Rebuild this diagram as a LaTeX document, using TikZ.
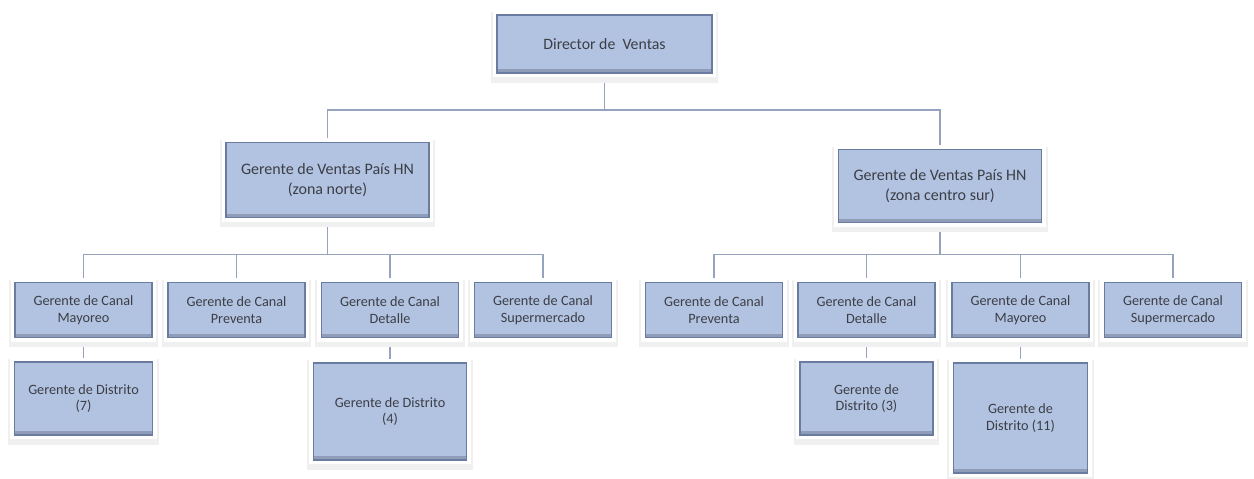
\documentclass[tikz,border=0pt]{standalone}
\usepackage{fontspec}
\setmainfont{Carlito}
\usepackage{tikz}
\usetikzlibrary{shapes,arrows,backgrounds,positioning,fit,calc,shadows}
\definecolor{boxblue}{RGB}{178,195,225}
\definecolor{boxedge}{RGB}{105,124,160}
\definecolor{linkgray}{RGB}{150,163,190}
\definecolor{txtgray}{RGB}{60,62,70}
\begin{document}
\begin{tikzpicture}[x=0.02cm,y=-0.02cm,
    b/.style={rectangle,inner sep=1pt,outer sep=0pt,align=center,text=txtgray,
      preaction={draw=black!6,line width=7pt,transform canvas={yshift=-2pt}},
      preaction={draw=white,line width=5pt},
      fill=boxblue,draw=boxedge,line width=0.7pt,
      path picture={\fill[boxedge!75] (path picture bounding box.south west) rectangle ([yshift=2.2pt]path picture bounding box.south east);}},
    canal/.style={b,minimum width=2.74cm,minimum height=1.1cm,font=\fontsize{8.1}{9.6}\selectfont},
    l/.style={draw=linkgray,line width=1pt}]
    \useasboundingbox (0,0) rectangle (1254,479);
    \node[b,minimum width=4.3cm,minimum height=1.16cm,font=\fontsize{9}{11}\selectfont] (dir) at (604.5,44) {Director de\ \ Ventas};
    \node[b,minimum width=4.06cm,minimum height=1.5cm,font=\fontsize{9.1}{11.5}\selectfont] (gvn) at (327.5,180) {Gerente de Ventas País HN\\(zona norte)};
    \node[b,minimum width=4.06cm,minimum height=1.46cm,font=\fontsize{9.1}{11.5}\selectfont] (gvs) at (940,186) {Gerente de Ventas País HN\\(zona centro sur)};
    % zona norte
    \node[canal] (nmay) at (83.5,310) {Gerente de Canal\\Mayoreo};
    \node[canal] (nprev) at (236.5,310) {Gerente de Canal\\Preventa};
    \node[canal] (ndet) at (390,310) {Gerente de Canal\\Detalle};
    \node[canal] (nsup) at (543,310) {Gerente de Canal\\Supermercado};
    \node[canal,minimum width=2.76cm,minimum height=1.46cm] (ndist7) at (83.5,398.5) {Gerente de Distrito\\(7)};
    \node[canal,minimum width=3.06cm,minimum height=1.94cm] (ndist4) at (390,411.5) {Gerente de Distrito\\(4)};
    % zona centro sur
    \node[canal] (sprev) at (714,310) {Gerente de Canal\\Preventa};
    \node[canal] (sdet) at (866.5,310) {Gerente de Canal\\Detalle};
    \node[canal] (smay) at (1020.5,310) {Gerente de Canal\\Mayoreo};
    \node[canal] (ssup) at (1173,310) {Gerente de Canal\\Supermercado};
    \node[canal,minimum width=2.66cm,minimum height=1.46cm] (sdist3) at (866.5,398.5) {Gerente de\\Distrito (3)};
    \node[canal,minimum width=2.68cm,minimum height=2.2cm] (sdist11) at (1020.5,418) {Gerente de\\Distrito (11)};
    \begin{scope}[on background layer]
    \draw[l] (dir.south) -- ++(0,37) -| (gvn.north);
    \draw[l] (dir.south) -- ++(0,37) -| (gvs.north);
    \draw[l] (gvn.south) -- ++(0,37) -| (nmay.north);
    \draw[l] (gvn.south) -- ++(0,37) -| (nprev.north);
    \draw[l] (gvn.south) -- ++(0,37) -| (ndet.north);
    \draw[l] (gvn.south) -- ++(0,37) -| (nsup.north);
    \draw[l] (gvs.south) -- ++(0,32) -| (sprev.north);
    \draw[l] (gvs.south) -- ++(0,32) -| (sdet.north);
    \draw[l] (gvs.south) -- ++(0,32) -| (smay.north);
    \draw[l] (gvs.south) -- ++(0,32) -| (ssup.north);
    \draw[l] (nmay.south) -- (ndist7.north);
    \draw[l] (ndet.south) -- (ndist4.north);
    \draw[l] (sdet.south) -- (sdist3.north);
    \draw[l] (smay.south) -- (sdist11.north);
    \end{scope}
\end{tikzpicture}
\end{document}
